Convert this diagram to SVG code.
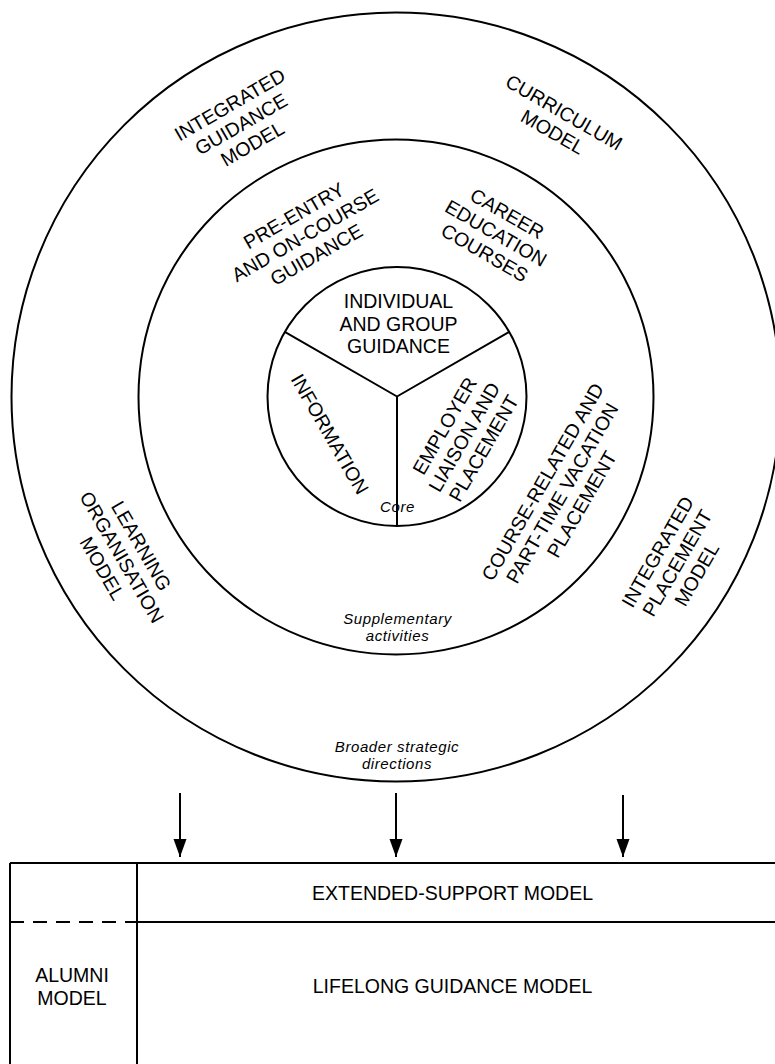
<svg xmlns="http://www.w3.org/2000/svg" width="775" height="1064" viewBox="0 0 775 1064">
<style>
.ln{fill:none;stroke:#000;stroke-width:2}
.lbl{font-family:"Liberation Sans",Arial,sans-serif;font-size:19.5px;fill:#000;text-anchor:middle}
.it{font-family:"Liberation Sans",Arial,sans-serif;font-size:15px;font-style:italic;letter-spacing:0.6px;fill:#000;text-anchor:middle}
</style>
<defs>
<marker id="ah" markerUnits="userSpaceOnUse" markerWidth="20" markerHeight="14" refX="18" refY="6.5" orient="auto">
<path d="M0,0 L18,6.5 L0,13 z" fill="#000"/>
</marker>
</defs>
<rect width="775" height="1064" fill="#fff"/>

<g id="outer-ring">
<circle class="ln" cx="396" cy="397" r="384.5"/>
<g transform="translate(241,124) rotate(-30)"><text class="lbl"><tspan x="0" y="-15.5">INTEGRATED</tspan><tspan x="0" y="7">GUIDANCE</tspan><tspan x="0" y="29.5">MODEL</tspan></text></g>
<g transform="translate(558.5,122) rotate(30)"><text class="lbl"><tspan x="0" y="-4.3">CURRICULUM</tspan><tspan x="0" y="18.3">MODEL</tspan></text></g>
<g transform="translate(122,557) rotate(60)"><text class="lbl"><tspan x="0" y="-15.5">LEARNING</tspan><tspan x="0" y="7">ORGANISATION</tspan><tspan x="0" y="29.5">MODEL</tspan></text></g>
<g transform="translate(677,563) rotate(-60)"><text class="lbl"><tspan x="0" y="-15.5">INTEGRATED</tspan><tspan x="0" y="7">PLACEMENT</tspan><tspan x="0" y="29.5">MODEL</tspan></text></g>
<text class="it"><tspan x="397" y="752">Broader strategic</tspan><tspan x="397" y="769">directions</tspan></text>
</g>

<g id="middle-ring">
<circle class="ln" cx="396" cy="397" r="257.5"/>
<g transform="translate(305,235) rotate(-30)"><text class="lbl"><tspan x="0" y="-15.5">PRE-ENTRY</tspan><tspan x="0" y="7">AND ON-COURSE</tspan><tspan x="0" y="29.5">GUIDANCE</tspan></text></g>
<g transform="translate(496,233) rotate(30)"><text class="lbl"><tspan x="0" y="-15.5">CAREER</tspan><tspan x="0" y="7">EDUCATION</tspan><tspan x="0" y="29.5">COURSES</tspan></text></g>
<g transform="translate(562,493) rotate(-60)"><text class="lbl"><tspan x="0" y="-15.5">COURSE-RELATED AND</tspan><tspan x="0" y="7">PART-TIME VACATION</tspan><tspan x="0" y="29.5">PLACEMENT</tspan></text></g>
<text class="it"><tspan x="397.5" y="624">Supplementary</tspan><tspan x="397.5" y="641">activities</tspan></text>
</g>

<g id="core">
<circle class="ln" cx="397" cy="396.5" r="129.5"/>
<path class="ln" d="M397,396.5 L397,526 M397,396.5 L284.8,331.8 M397,396.5 L509.2,331.8"/>
<text class="lbl"><tspan x="398.5" y="308">INDIVIDUAL</tspan><tspan x="398.5" y="330.5">AND GROUP</tspan><tspan x="398.5" y="353">GUIDANCE</tspan></text>
<g transform="translate(330,434) rotate(60)"><text class="lbl" y="7">INFORMATION</text></g>
<g transform="translate(464,437) rotate(-60)"><text class="lbl"><tspan x="0" y="-15.5">EMPLOYER</tspan><tspan x="0" y="7">LIAISON AND</tspan><tspan x="0" y="29.5">PLACEMENT</tspan></text></g>
<text class="it" x="397.5" y="512">Core</text>
</g>

<g id="connectors">
<line class="ln" x1="180" y1="793" x2="180" y2="857" marker-end="url(#ah)"/>
<line class="ln" x1="396" y1="793" x2="396" y2="857" marker-end="url(#ah)"/>
<line class="ln" x1="623" y1="795" x2="623" y2="857" marker-end="url(#ah)"/>
</g>

<g id="table">
<path class="ln" d="M10,863 L776,863 M10,863 L10,1065 M137,863 L137,1065 M137,922 L776,922"/>
<line class="ln" x1="10" y1="922" x2="137" y2="922" stroke-dasharray="14 9"/>
</g>
<g id="extended-support">
<text class="lbl" x="452.5" y="900">EXTENDED-SUPPORT MODEL</text>
</g>
<g id="lifelong">
<text class="lbl" x="452.5" y="993">LIFELONG GUIDANCE MODEL</text>
</g>
<g id="alumni">
<text class="lbl"><tspan x="72" y="982">ALUMNI</tspan><tspan x="72" y="1005">MODEL</tspan></text>
</g>
</svg>
